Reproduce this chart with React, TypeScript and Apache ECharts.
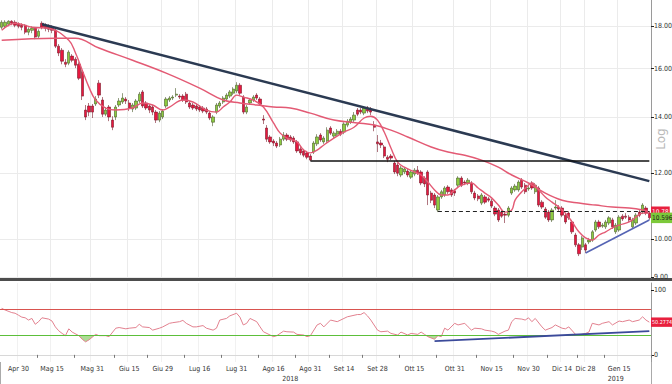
import React, { useEffect, useRef } from "react";
import * as echarts from "echarts";

// ---------- calendar ----------
const startDate = "2018-04-23";
const endDate = "2019-01-28";
const marketHolidays = ["2018-05-01", "2018-08-15", "2018-12-24", "2018-12-25", "2018-12-26", "2018-12-31", "2019-01-01"];

// ---------- OHLC (price) ----------
const openP = [
  17.93, 17.98, 18.08, 18.23, 18.18, 18.08, 18.03, 18.03, 17.69, 17.78,
  17.88, 17.49, 18.13, 18.03, 17.98, 17.93, 17.78, 17.02, 16.83, 16.28,
  16.24, 16.56, 16.42, 16.19, 15.84, 14.27, 14.43, 14.43, 14.51, 15.37,
  14.67, 14.11, 14.39, 13.88, 14.0, 14.47, 14.59, 14.71, 14.55, 14.31,
  14.35, 14.63, 15.0, 14.55, 14.43, 14.39, 14.19, 13.88, 14.0, 14.43,
  14.67, 14.75, 14.87, 14.83, 14.83, 14.91, 14.55, 14.47, 14.43, 14.39,
  14.35, 14.31, 14.15, 13.8, 14.19, 14.43, 14.59, 14.71, 14.83, 14.95,
  15.04, 15.28, 14.79, 14.19, 14.55, 14.67, 14.87, 14.71, 13.92, 13.58,
  13.25, 13.1, 13.03, 12.96, 13.17, 13.32, 13.25, 13.21, 13.07, 12.82,
  12.75, 12.68, 12.57, 12.71, 13.0, 13.32, 13.07, 13.1, 13.58, 13.28,
  13.35, 13.46, 13.43, 13.69, 13.8, 13.88, 14.27, 14.27, 14.15, 14.35,
  14.31, 13.69, 13.07, 13.03, 12.89, 12.53, 12.57, 12.33, 12.26, 11.93,
  12.03, 12.06, 11.86, 11.96, 12.09, 12.03, 11.83, 12.03, 11.35, 11.29,
  10.83, 11.23, 11.29, 11.54, 11.45, 11.42, 11.6, 11.83, 11.7, 11.67,
  11.67, 11.35, 11.26, 11.04, 11.23, 11.17, 11.1, 10.89, 10.83, 10.77,
  10.71, 10.68, 11.35, 11.45, 11.45, 11.76, 11.6, 11.48, 11.67, 11.39,
  11.51, 11.07, 10.86, 10.77, 10.54, 10.89, 10.92, 10.89, 10.68, 10.74,
  10.48, 10.11, 9.84, 9.78, 9.84, 9.92, 9.97, 10.25, 10.48, 10.36,
  10.34, 10.45, 10.54, 10.2, 10.25, 10.65, 10.65, 10.62, 10.34, 10.45,
  10.77, 10.77, 10.89, 10.74,
];
const closeP = [
  18.18, 18.18, 18.23, 18.13, 18.03, 17.98, 17.93, 17.69, 17.83, 17.88,
  17.45, 17.73, 17.93, 17.88, 17.83, 17.78, 17.02, 16.7, 16.33, 16.19,
  16.74, 16.37, 16.15, 15.58, 14.83, 14.0, 14.19, 14.19, 14.71, 14.87,
  14.11, 14.27, 14.0, 13.61, 14.39, 14.63, 14.75, 14.63, 14.35, 14.47,
  14.63, 14.91, 14.43, 14.35, 14.27, 14.19, 13.88, 14.15, 14.23, 14.71,
  14.75, 14.79, 14.91, 14.79, 14.67, 14.59, 14.39, 14.35, 14.31, 14.27,
  14.23, 14.19, 13.96, 14.0, 14.47, 14.55, 14.75, 14.87, 15.0, 15.12,
  15.28, 14.95, 14.19, 14.39, 14.67, 14.79, 14.75, 14.51, 13.88, 13.17,
  13.07, 13.03, 12.92, 13.17, 13.32, 13.17, 13.14, 13.07, 12.75, 12.68,
  12.6, 12.53, 12.43, 13.03, 13.25, 13.14, 13.21, 13.5, 13.39, 13.39,
  13.46, 13.35, 13.73, 13.84, 13.92, 14.07, 14.11, 14.19, 14.35, 14.23,
  14.19, 13.61, 13.0, 12.96, 12.57, 12.46, 12.5, 12.03, 11.99, 12.16,
  12.13, 11.93, 12.03, 12.09, 11.99, 11.67, 11.64, 11.29, 11.13, 10.98,
  11.23, 11.39, 11.51, 11.39, 11.29, 11.35, 11.83, 11.6, 11.67, 11.76,
  11.39, 11.2, 11.17, 11.29, 11.07, 11.13, 10.95, 10.71, 10.54, 10.65,
  10.68, 10.89, 11.51, 11.57, 11.7, 11.54, 11.39, 11.51, 11.51, 11.6,
  10.98, 10.92, 10.62, 10.54, 10.83, 10.92, 10.86, 10.68, 10.48, 10.6,
  10.2, 9.84, 9.6, 10.03, 9.7, 9.97, 10.2, 10.48, 10.34, 10.39,
  10.48, 10.6, 10.34, 10.39, 10.62, 10.57, 10.62, 10.54, 10.54, 10.68,
  10.68, 10.98, 10.74, 10.6,
];
const lowP = [
  17.83, 17.88, 17.98, 18.03, 17.93, 17.88, 17.78, 17.59, 17.54, 17.64,
  17.35, 17.4, 17.83, 17.73, 17.69, 17.64, 16.93, 16.56, 16.19, 16.06,
  16.15, 16.28, 16.02, 15.5, 14.67, 13.88, 14.03, 13.96, 14.43, 14.75,
  14.0, 14.03, 13.84, 13.5, 13.88, 14.39, 14.51, 14.51, 14.23, 14.19,
  14.27, 14.55, 14.35, 14.27, 14.15, 14.07, 13.77, 13.8, 13.92, 14.35,
  14.59, 14.67, 14.79, 14.71, 14.59, 14.51, 14.31, 14.27, 14.23, 14.19,
  14.15, 14.11, 13.88, 13.65, 14.11, 14.35, 14.51, 14.63, 14.75, 14.87,
  14.95, 14.87, 14.11, 14.11, 14.47, 14.59, 14.67, 14.43, 13.73, 13.07,
  13.0, 12.92, 12.85, 12.89, 13.1, 13.1, 13.07, 13.0, 12.68, 12.6,
  12.53, 12.46, 12.4, 12.64, 12.92, 13.07, 13.0, 13.03, 13.32, 13.21,
  13.28, 13.28, 13.35, 13.61, 13.73, 13.8, 14.03, 14.11, 14.07, 14.15,
  14.07, 13.46, 12.71, 12.85, 12.5, 12.36, 12.43, 11.96, 11.89, 11.86,
  11.96, 11.86, 11.8, 11.89, 11.93, 11.6, 11.54, 10.98, 11.04, 10.89,
  10.77, 11.17, 11.23, 11.32, 11.23, 11.26, 11.54, 11.54, 11.6, 11.6,
  11.32, 11.13, 11.1, 10.98, 11.01, 11.07, 10.89, 10.65, 10.48, 10.6,
  10.45, 10.62, 11.29, 11.39, 11.39, 11.48, 11.32, 11.42, 11.45, 11.32,
  10.92, 10.86, 10.57, 10.48, 10.48, 10.83, 10.8, 10.62, 10.42, 10.54,
  10.14, 9.78, 9.54, 9.7, 9.62, 9.86, 9.92, 10.2, 10.28, 10.31,
  10.28, 10.39, 10.28, 10.14, 10.2, 10.51, 10.57, 10.48, 10.28, 10.39,
  10.62, 10.71, 10.68, 10.54,
];
const highP = [
  18.28, 18.28, 18.28, 18.28, 18.28, 18.18, 18.13, 18.08, 17.93, 17.98,
  17.93, 17.83, 18.23, 18.13, 18.08, 18.03, 17.88, 17.12, 16.93, 16.42,
  16.83, 16.65, 16.51, 16.28, 15.93, 14.47, 14.55, 14.51, 14.83, 15.5,
  14.79, 14.39, 14.47, 14.03, 14.47, 14.75, 14.95, 14.79, 14.67, 14.55,
  14.71, 15.0, 15.08, 14.63, 14.51, 14.47, 14.27, 14.23, 14.31, 14.79,
  14.83, 14.87, 15.16, 14.91, 14.91, 15.0, 14.63, 14.55, 14.51, 14.47,
  14.43, 14.39, 14.23, 14.07, 14.55, 14.63, 14.83, 14.95, 15.08, 15.2,
  15.41, 15.37, 14.87, 14.47, 14.75, 14.87, 14.95, 14.79, 14.07, 13.69,
  13.32, 13.17, 13.1, 13.25, 13.43, 13.39, 13.32, 13.28, 13.14, 12.89,
  12.82, 12.75, 12.64, 13.1, 13.35, 13.39, 13.28, 13.61, 13.65, 13.46,
  13.54, 13.54, 13.8, 13.92, 14.0, 14.19, 14.35, 14.35, 14.43, 14.43,
  14.39, 13.84, 13.32, 13.14, 12.96, 12.6, 12.64, 12.4, 12.33, 12.23,
  12.19, 12.13, 12.09, 12.16, 12.23, 12.09, 11.89, 12.09, 11.42, 11.35,
  11.29, 11.45, 11.57, 11.6, 11.51, 11.48, 11.89, 11.89, 11.76, 11.83,
  11.73, 11.42, 11.32, 11.35, 11.29, 11.23, 11.17, 10.95, 10.89, 10.83,
  10.8, 10.95, 11.57, 11.64, 11.76, 11.83, 11.67, 11.57, 11.73, 11.67,
  11.57, 11.13, 10.92, 10.83, 10.89, 11.13, 10.98, 10.95, 10.74, 10.8,
  10.54, 10.17, 9.89, 10.08, 9.89, 10.03, 10.25, 10.54, 10.54, 10.45,
  10.54, 10.65, 10.6, 10.45, 10.68, 10.71, 10.74, 10.68, 10.6, 10.74,
  10.83, 11.04, 10.95, 10.8,
];

// ---------- moving averages (read at sample days: trading-day index, price) ----------
const fastMaIdx = [
  0, 4, 9, 14, 20, 22, 24, 26, 28, 31, 34, 39, 42, 45, 48, 50, 54, 57, 61, 64,
  66, 68, 70, 72, 75, 78, 81, 83, 85, 88, 90, 92, 94, 96, 99, 102, 105, 108, 110, 112,
  114, 116, 118, 120, 123, 125, 127, 129, 131, 133, 135, 137, 140, 142, 144, 146, 148, 150, 152, 153,
  155, 157, 158, 160, 162, 164, 166, 168, 170, 172, 174, 176, 178, 180, 182, 184, 187, 189, 191, 193,
];
const fastMaVal = [
  17.78, 18.13, 17.93, 17.88, 17.3, 16.7, 15.93, 15.2, 14.67, 14.35, 14.27, 14.35, 14.55, 14.47, 14.27, 14.39, 14.67, 14.59, 14.27, 14.19,
  14.39, 14.59, 14.87, 14.79, 14.67, 14.39, 13.77, 13.39, 13.21, 13.07, 12.78, 12.68, 12.78, 12.96, 13.21, 13.43, 13.61, 13.96, 14.03, 13.88,
  13.43, 12.85, 12.36, 12.19, 12.03, 11.93, 11.7, 11.45, 11.29, 11.29, 11.45, 11.6, 11.67, 11.51, 11.35, 11.2, 10.98, 10.77, 10.83, 11.13,
  11.39, 11.6, 11.67, 11.45, 11.23, 11.07, 10.92, 10.74, 10.48, 10.2, 10.03, 9.97, 10.11, 10.2, 10.31, 10.39, 10.48, 10.62, 10.74, 10.74,
];
const slowMaIdx = [0, 16, 22, 29, 39, 49, 59, 66, 71, 76, 81, 86, 92, 99, 106, 111, 116, 121, 128, 133, 138, 143, 148, 152, 157, 162, 167, 172, 177, 182, 187, 191, 193];
const slowMaVal = [
  17.3, 17.4, 17.4, 16.93, 16.37, 15.8, 15.16, 14.67, 14.55, 14.47, 14.39, 14.35, 14.15, 13.88, 13.77, 13.69, 13.5,
  13.25, 12.89, 12.71, 12.6, 12.43, 12.19, 11.93, 11.67, 11.35, 11.13, 11.04, 10.98, 10.92, 10.89, 10.83, 10.77,
];

// ---------- RSI (trading-day index, value) ----------
const rsiIdx = [
  0, 1, 3, 4, 5, 6, 7, 8, 9, 10, 11, 12, 14, 15, 16, 17, 18, 19, 20, 21,
  23, 24, 25, 26, 28, 29, 31, 32, 34, 35, 37, 38, 40, 41, 42, 44, 45, 47, 48, 50,
  51, 53, 54, 55, 57, 58, 60, 61, 63, 64, 65, 67, 68, 70, 71, 72, 73, 74, 76, 77,
  78, 80, 81, 82, 84, 85, 87, 88, 90, 91, 92, 94, 95, 96, 98, 100, 102, 103, 106, 107,
  108, 109, 110, 112, 113, 115, 116, 118, 119, 121, 122, 124, 125, 126, 127, 129, 130, 131, 132, 133,
  135, 136, 138, 139, 140, 141, 143, 144, 146, 147, 148, 150, 151, 152, 153, 155, 156, 157, 158, 159,
  161, 162, 164, 165, 167, 168, 169, 171, 172, 174, 175, 176, 178, 179, 181, 182, 184, 185, 187, 188,
  190, 191, 192, 193,
];
const rsiVal = [
  71.5, 69, 65, 64, 61, 58, 57, 53.5, 56, 47, 51, 57, 55, 52, 43, 37, 33, 29.5, 40, 35,
  29.5, 24, 20, 23, 31.5, 29.5, 29.5, 28, 41, 42, 40, 41, 42, 47, 43, 42, 38, 41, 43, 48.5,
  49.5, 51, 53, 48.5, 43, 43, 45, 41, 38, 41, 53.5, 56, 60, 64, 58, 46, 48.5, 56, 51, 43,
  35.5, 30.5, 28, 29.5, 36.5, 35.5, 35, 31.5, 30.5, 28, 29.5, 46, 48.5, 43, 53.5, 51, 56, 58.5, 62, 62,
  65, 60, 53.5, 38, 35.5, 36.5, 33, 30.5, 35, 30.5, 33, 31.5, 35, 31.5, 28, 24, 29.5, 28, 41, 38,
  48.5, 46, 48.5, 43, 38, 41, 40, 38, 36.5, 35, 31.5, 36.5, 38, 51, 56, 55, 53.5, 57, 51, 56,
  43, 38, 42, 46, 41, 40, 43, 31.5, 30.5, 33, 35, 48.5, 46, 48.5, 51, 46, 52, 51, 53.5, 51,
  53.5, 58.5, 53.5, 50.28,
];

// ---------- axis / annotation values ----------
const labelDates = [
  "2018-04-30", "2018-05-15", "2018-05-31", "2018-06-15", "2018-06-29", "2018-07-16", "2018-07-31", "2018-08-16", "2018-08-31",
  "2018-09-14", "2018-09-28", "2018-10-15", "2018-10-31", "2018-11-15", "2018-11-30", "2018-12-14", "2018-12-28", "2019-01-15",
];
const monthNames = ["Gen", "Feb", "Mar", "Apr", "Mag", "Giu", "Lug", "Ago", "Set", "Ott", "Nov", "Dic"];
const yearLabelDates = ["2018-08-23", "2019-01-14"];
const yearBoundaryDate = "2019-01-02";
const priceTicks = [9, 10, 12, 14, 16, 18];
const rsiTicks = [0, 100];
const lastPrice = 10.596;
const lastMa = 10.78;
const lastRsi = 50.2774;
const rsiUpper = 70;
const rsiLower = 30;
const downTrend = [["2018-05-10", 18.08], ["2019-01-28", 11.73]];
const support = [["2018-08-31", 12.4], ["2019-01-28", 12.4]];
const dashedLevel = [["2018-10-24", 10.8], ["2019-01-28", 10.8]];
const upTrend = [["2018-12-28", 9.62], ["2019-01-28", 10.54]];
const rsiTrend = [["2018-10-23", 21], ["2019-01-28", 36.6]];

const FONT = "'Liberation Sans Narrow','DejaVu Sans Condensed','Liberation Sans',sans-serif";

function buildDays(start: string, end: string, closed: string[]): string[] {
  const out: string[] = [];
  const d = new Date(start + "T00:00:00Z");
  const e = new Date(end + "T00:00:00Z");
  while (d.getTime() <= e.getTime()) {
    const wd = d.getUTCDay();
    const s = d.toISOString().slice(0, 10);
    if (wd !== 0 && wd !== 6 && closed.indexOf(s) < 0) out.push(s);
    d.setUTCDate(d.getUTCDate() + 1);
  }
  return out;
}

function seg(pair: any[], style: any) {
  return [
    { coord: pair[0], lineStyle: style },
    { coord: pair[1], lineStyle: style },
  ];
}

function boxLabel(text: string, bg: string, fg: string, size: number, pad: number[]) {
  return {
    show: true, position: "end", distance: 0, formatter: text,
    backgroundColor: bg, color: fg, fontSize: size, fontFamily: FONT, padding: pad, lineHeight: size + 1,
  };
}

export default function App() {
  const ref = useRef<HTMLDivElement>(null);
  useEffect(() => {
    if (!ref.current) return;
    const chart = echarts.init(ref.current, null, { renderer: "svg" });
    const days = buildDays(startDate, endDate, marketHolidays);
    const candles = days.map((_, i) => [openP[i], closeP[i], lowP[i], highP[i]]);
    const fastMa = fastMaIdx.map((d, i) => [d, fastMaVal[i]]);
    const slowMa = slowMaIdx.map((d, i) => [d, slowMaVal[i]]);
    const rsi = rsiIdx.map((d, i) => [d, rsiVal[i]]);
    const labelSet = new Set(labelDates);
    const labelIdx = labelDates.map((d) => days.indexOf(d));
    const tickSet = new Set<number>();
    for (let k = 0; k < labelIdx.length - 1; k++) tickSet.add(Math.round((labelIdx[k] + labelIdx[k + 1]) / 2) + 1);
    const yearSet = new Set(yearLabelDates);
    const isLabel = (_i: number, v: string) => labelSet.has(v);
    const fmtDate = (v: string) => {
      const m = parseInt(v.slice(5, 7), 10);
      const d = parseInt(v.slice(8, 10), 10);
      return monthNames[m - 1] + " " + d;
    };

    const option: any = {
      animation: false,
      backgroundColor: "#ffffff",
      grid: [
        { left: 0, right: 21, top: 0, height: 278, outerBoundsMode: "none", containLabel: false },
        { left: 0, right: 21, top: 283, height: 79, outerBoundsMode: "none", containLabel: false },
      ],
      xAxis: [
        {
          type: "category", gridIndex: 0, data: days,
          axisLine: { show: false }, axisTick: { show: false }, axisLabel: { show: false },
          splitLine: { show: true, interval: isLabel, lineStyle: { color: "#ebebeb", width: 1 } },
        },
        {
          type: "category", gridIndex: 1, data: days,
          axisLine: { show: true, lineStyle: { color: "#d8d8d8" } },
          axisTick: { show: true, interval: (i: number) => tickSet.has(i), length: 3, lineStyle: { color: "#777" } },
          axisLabel: { interval: isLabel, formatter: fmtDate, fontSize: 7, margin: 3, color: "#333", fontFamily: FONT },
          splitLine: { show: true, interval: isLabel, lineStyle: { color: "#f1f1f1" } },
        },
        {
          type: "category", gridIndex: 1, data: days, position: "bottom",
          axisLine: { show: false },
          axisTick: { show: true, interval: (_i: number, v: string) => v === yearBoundaryDate, length: 24, lineStyle: { color: "#aaa" } },
          axisLabel: { interval: (_i: number, v: string) => yearSet.has(v), formatter: (v: string) => v.slice(0, 4), fontSize: 7, margin: 13, color: "#333", fontFamily: FONT },
          splitLine: { show: false },
        },
      ],
      yAxis: [
        {
          type: "log", logBase: 10, gridIndex: 0, position: "right", min: 8.98, max: 19.33,
          axisLine: { show: true, lineStyle: { color: "#9a9a9a" } },
          axisTick: { show: true, length: 3, customValues: priceTicks, lineStyle: { color: "#222" } },
          axisLabel: { customValues: priceTicks, formatter: (v: number) => v.toFixed(2), fontSize: 7, margin: 3, color: "#333", fontFamily: FONT },
          splitLine: { show: true, lineStyle: { color: "#ebebeb" } },
          name: "Log", nameLocation: "middle", nameGap: 4, nameRotate: 90, nameMoveOverlap: false,
          nameTextStyle: { color: "#b8b8b8", fontSize: 12, fontFamily: "'DejaVu Sans',sans-serif" },
        },
        {
          type: "value", gridIndex: 1, position: "right", min: -11, max: 110.5,
          axisLine: { show: true, lineStyle: { color: "#9a9a9a" } },
          axisTick: { show: true, length: 3, customValues: rsiTicks, lineStyle: { color: "#222" } },
          axisLabel: { customValues: rsiTicks, formatter: (v: number) => String(v), fontSize: 7, margin: 3, color: "#333", fontFamily: FONT },
          splitLine: { show: false },
        },
      ],
      visualMap: {
        show: false, type: "piecewise", seriesIndex: 3, dimension: 1,
        pieces: [
          { lt: rsiLower, color: "#a4d88a" },
          { gte: rsiLower, lte: rsiUpper, color: "rgba(255,255,255,0)" },
          { gt: rsiUpper, color: "#f2a3ae" },
        ],
      },
      series: [
        {
          type: "candlestick", xAxisIndex: 0, yAxisIndex: 0, data: candles, barWidth: 2.8,
          itemStyle: { color: "#8ccb3f", color0: "#e8173f", borderColor: "#4a5a2a", borderColor0: "#7a1a2a", borderWidth: 0.6 },
          markLine: {
            silent: true, symbol: ["none", "none"], animation: false,
            label: { show: false },
            data: [
              seg(downTrend, { color: "#2b3a52", width: 2.5, type: "solid" }),
              seg(support, { color: "#111", width: 1.5, type: "solid" }),
              seg(dashedLevel, { color: "#222", width: 1, type: [4, 3] }),
              seg(upTrend, { color: "#5564b4", width: 1.6, type: "solid" }),
              { yAxis: lastMa, lineStyle: { color: "rgba(0,0,0,0)", width: 0 }, label: boxLabel(lastMa.toFixed(2), "#e8203e", "#fff", 6.5, [2, 1, 1, 1]) },
              { yAxis: lastPrice, lineStyle: { color: "rgba(0,0,0,0)", width: 0 }, label: boxLabel(lastPrice.toFixed(3), "#7cc93a", "#1a1a1a", 6.5, [2, 1, 1, 1]) },
            ],
          },
        },
        {
          type: "line", xAxisIndex: 0, yAxisIndex: 0, data: slowMa, smooth: 0.4, symbol: "none",
          lineStyle: { color: "#e35a74", width: 1.5 }, silent: true, z: 3,
        },
        {
          type: "line", xAxisIndex: 0, yAxisIndex: 0, data: fastMa, smooth: 0.4, symbol: "none",
          lineStyle: { color: "#e35a74", width: 1.4 }, silent: true, z: 3,
        },
        {
          type: "line", xAxisIndex: 1, yAxisIndex: 1, data: rsi, symbol: "none", silent: true,
          lineStyle: { width: 0 }, areaStyle: { origin: rsiLower, opacity: 0.9 },
        },
        {
          type: "line", xAxisIndex: 1, yAxisIndex: 1, data: rsi, symbol: "none", silent: true,
          lineStyle: { color: "#e2818f", width: 1 }, z: 4,
          markLine: {
            silent: true, symbol: ["none", "none"], animation: false, label: { show: false },
            data: [
              { yAxis: rsiUpper, lineStyle: { color: "#d9534f", width: 1, type: "solid" } },
              { yAxis: rsiLower, lineStyle: { color: "#5cbf3a", width: 1, type: "solid" } },
              seg(rsiTrend, { color: "#3b4a9a", width: 1.8, type: "solid" }),
              { yAxis: lastRsi, lineStyle: { color: "rgba(0,0,0,0)", width: 0 }, label: boxLabel(String(lastRsi), "#e8203e", "#fff", 5.4, [2, 0, 1, 1]) },
            ],
          },
        },
      ],
      graphic: [
        { type: "rect", left: 0, top: 278, shape: { width: 672, height: 3 }, style: { fill: "#4d4d4d" }, silent: true },
      ],
    };
    chart.setOption(option);
    return () => chart.dispose();
  }, []);
  return <div ref={ref} style={{ position: "fixed", left: 0, top: 0, width: 672, height: 384, background: "#fff" }} />;
}
